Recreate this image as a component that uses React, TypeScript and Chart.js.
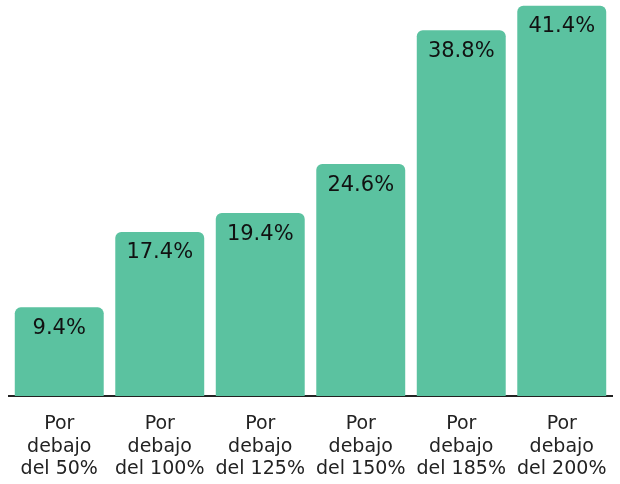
import React, { useEffect, useRef } from "react";
import { Chart, registerables } from "chart.js";

Chart.register(...registerables);

const categories: string[][] = [
  ["Por", "debajo", "del 50%"],
  ["Por", "debajo", "del 100%"],
  ["Por", "debajo", "del 125%"],
  ["Por", "debajo", "del 150%"],
  ["Por", "debajo", "del 185%"],
  ["Por", "debajo", "del 200%"],
];
const values: number[] = [9.4, 17.4, 19.4, 24.6, 38.8, 41.4];
const valueLabels: string[] = ["9.4%", "17.4%", "19.4%", "24.6%", "38.8%", "41.4%"];

const FONT = "'DejaVu Sans', sans-serif";

const labelPlugin = {
  id: "barLabels",
  afterDatasetsDraw(chart: any) {
    const ctx = chart.ctx;
    const meta = chart.getDatasetMeta(0);
    ctx.save();
    ctx.font = `21px ${FONT}`;
    ctx.fillStyle = "#111";
    ctx.textAlign = "center";
    ctx.textBaseline = "middle";
    meta.data.forEach((el: any, i: number) => {
      ctx.fillText(valueLabels[i], el.x, el.y + 21);
    });
    ctx.restore();
  },
};

export default function App() {
  const ref = useRef<HTMLCanvasElement>(null);
  useEffect(() => {
    if (!ref.current) return;
    const chart = new Chart(ref.current, {
      type: "bar",
      data: {
        labels: categories,
        datasets: [
          {
            data: values,
            backgroundColor: "#5BC2A0",
            borderRadius: 6,
            borderSkipped: "bottom",
            barPercentage: 0.885,
            categoryPercentage: 1,
          },
        ],
      },
      options: {
        animation: false,
        responsive: false,
        maintainAspectRatio: false,
        layout: { padding: { left: 9, right: 8, top: 0, bottom: 0 } },
        plugins: { legend: { display: false }, tooltip: { enabled: false } },
        scales: {
          x: {
            grid: { display: false, drawTicks: false },
            border: { display: true, color: "#222", width: 2 },
            ticks: {
              color: "#222",
              font: { family: FONT, size: 19, lineHeight: "22.5px" },
              padding: 17,
              maxRotation: 0,
              autoSkip: false,
            },
            afterFit(scale: any) {
              scale.height = 88;
              scale.paddingLeft = 0;
              scale.paddingRight = 0;
            },
          },
          y: {
            display: false,
            min: 0,
            max: 42,
          },
        },
      },
      plugins: [labelPlugin],
    });
    return () => chart.destroy();
  }, []);
  return (
    <div style={{ position: "absolute", left: 0, top: 0, width: 620, height: 484, background: "#fff" }}>
      <canvas ref={ref} width={620} height={484} />
    </div>
  );
}
